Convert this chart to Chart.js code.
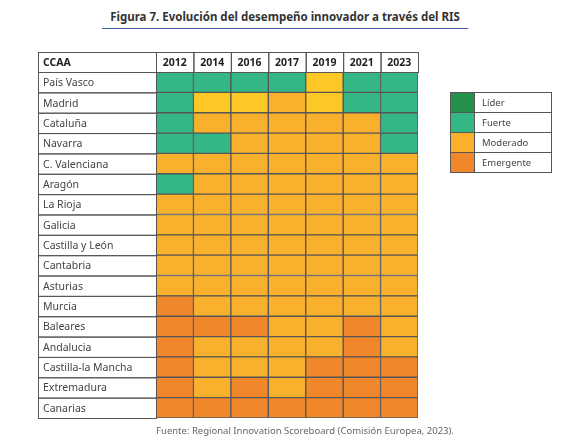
<!DOCTYPE html>
<html>
<head>
<meta charset="utf-8">
<script src="https://cdn.jsdelivr.net/npm/chart.js@4"></script>
<style>
  body { margin: 0; background: #fff; font-family: "Noto Sans", sans-serif; }
  #wrap { position: relative; width: 570px; height: 444px; }
  #title { position: absolute; left: 0; width: 570px; top: 9px; text-align: center; font-size: 11.5px; font-weight: bold; color: #333; }
  #title span { display: inline-block; padding: 0 8px 4px; border-bottom: 1.5px solid #3a5fa8; }
  #source { position: absolute; left: 0; width: 570px; top: 424px; text-align: center; font-size: 9.5px; color: #666; padding-left: 40px; box-sizing: border-box; }
  #legend { position: absolute; left: 450px; top: 92px; width: 100px; border: 1px solid #555; border-bottom: none; }
  #legend div { height: 19px; border-bottom: 1px solid #555; font-size: 9.5px; color: #444; display: flex; align-items: center; }
  #legend i { width: 23px; height: 100%; border-right: 1px solid #555; margin-right: 7px; }
  canvas { position: absolute; left: 0; top: 0; }
</style>
</head>
<body>
<div id="wrap">
  <div id="title"><span>Figura 7. Evolución del desempeño innovador a través del RIS</span></div>
  <canvas id="c" width="570" height="444"></canvas>
  <div id="legend"></div>
  <div id="source">Fuente: Regional Innovation Scoreboard (Comisión Europea, 2023).</div>
</div>
<script>
// Datos
const years = ['2012', '2014', '2016', '2017', '2019', '2021', '2023'];
const regions = ['País Vasco', 'Madrid', 'Cataluña', 'Navarra', 'C. Valenciana', 'Aragón', 'La Rioja', 'Galicia',
  'Castilla y León', 'Cantabria', 'Asturias', 'Murcia', 'Baleares', 'Andalucia', 'Castilla-la Mancha', 'Extremadura', 'Canarias'];
// F = Fuerte, Y = Moderado (claro), M = Moderado, E = Emergente, L = Líder
const levels = [
  'FFFFYFF',
  'FYYMYFF',
  'FMMMMMF',
  'FFMMMMF',
  'MMMMMMM',
  'FMMMMMM',
  'MMMMMMM',
  'MMMMMMM',
  'MMMMMMM',
  'MMMMMMM',
  'MMMMMMM',
  'EMMMMMM',
  'EEEMMEM',
  'EMMMMEM',
  'EMMMEEE',
  'EMEMEEE',
  'EEEEEEE'
];
const legendLabels = ['Líder', 'Fuerte', 'Moderado', 'Emergente'];
const legendKeys = ['L', 'F', 'M', 'E'];

const colors = { L: '#23914b', F: '#35b785', M: '#f9b12d', Y: '#fdc726', E: '#f1872b' };
const lineColor = '#555';

// Leyenda
const legendEl = document.getElementById('legend');
legendLabels.forEach((lbl, i) => {
  legendEl.innerHTML += `<div><i style="background:${colors[legendKeys[i]]}"></i>${lbl}</div>`;
});

const datasets = years.map((y, j) => ({
  label: y,
  data: regions.map(() => 1),
  backgroundColor: levels.map(row => colors[row[j]]),
  borderColor: lineColor,
  borderWidth: 1,
  borderSkipped: false,
  barPercentage: 1,
  categoryPercentage: 1
}));

// Dibuja cabecera y columna CCAA
const tablePlugin = {
  id: 'table',
  afterDraw(chart) {
    const { ctx, chartArea: a, scales } = chart;
    const left = 38;
    const top = 52;
    const rowH = (a.bottom - a.top) / regions.length;
    ctx.save();
    ctx.strokeStyle = lineColor;
    ctx.lineWidth = 1;
    ctx.textBaseline = 'middle';
    // cabecera
    ctx.font = 'bold 10.5px "Noto Sans"';
    ctx.fillStyle = '#222';
    ctx.strokeRect(left + 0.5, top + 0.5, a.left - left, a.top - top);
    ctx.textAlign = 'left';
    ctx.fillText('CCAA', left + 5, (top + a.top) / 2 + 1);
    ctx.textAlign = 'center';
    years.forEach((y, j) => {
      const x0 = scales.x.getPixelForValue(j);
      const x1 = scales.x.getPixelForValue(j + 1);
      ctx.strokeRect(x0 + 0.5, top + 0.5, x1 - x0, a.top - top);
      ctx.fillText(y, (x0 + x1) / 2, (top + a.top) / 2 + 1);
    });
    // columna de regiones
    ctx.font = '10.5px "Noto Sans"';
    ctx.fillStyle = '#444';
    ctx.textAlign = 'left';
    regions.forEach((r, i) => {
      const yc = scales.y.getPixelForValue(i);
      ctx.strokeRect(left + 0.5, a.top + i * rowH + 0.5, a.left - left, rowH);
      ctx.fillText(r, left + 5, yc + 1);
    });
    ctx.restore();
  }
};

new Chart(document.getElementById('c'), {
  type: 'bar',
  data: { labels: regions, datasets: datasets },
  options: {
    indexAxis: 'y',
    responsive: false,
    animation: false,
    layout: { padding: { left: 156, top: 72, right: 152, bottom: 26 } },
    plugins: { legend: { display: false }, tooltip: { enabled: false } },
    scales: {
      x: { stacked: true, min: 0, max: 7, display: false },
      y: { stacked: true, display: false }
    }
  },
  plugins: [tablePlugin]
});
</script>
</body>
</html>
